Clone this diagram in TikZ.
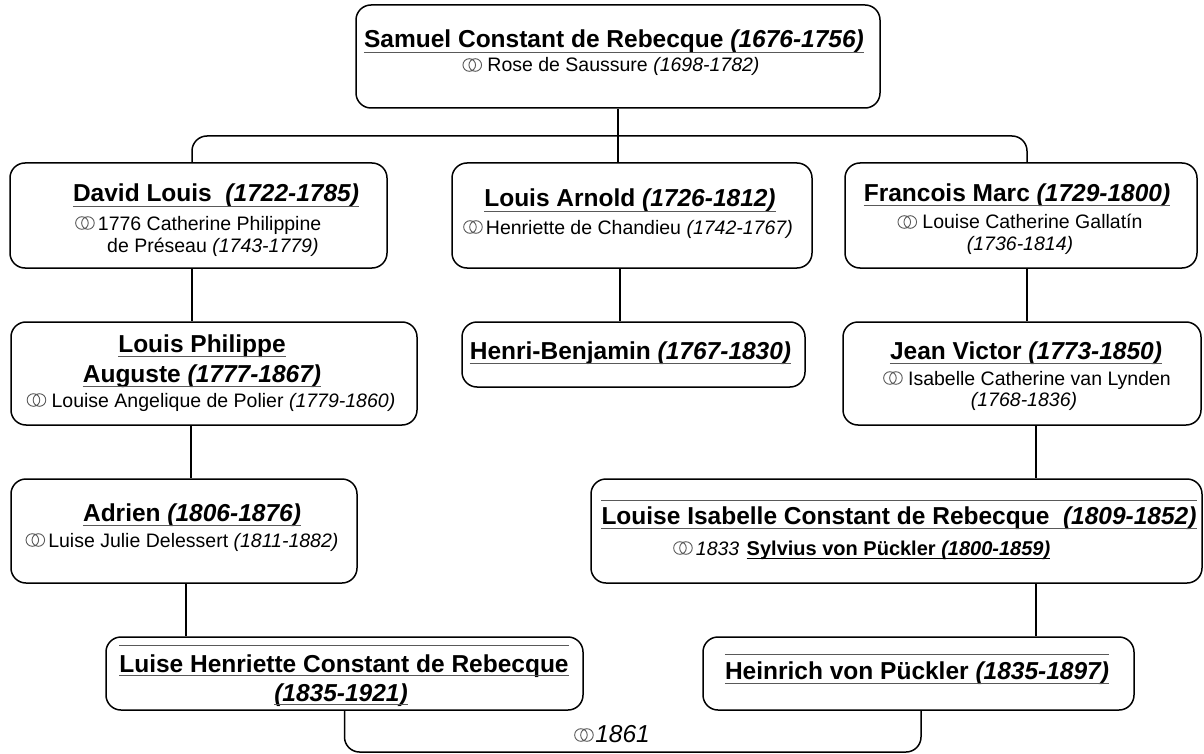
\documentclass[tikz,border=0pt]{standalone}
\usepackage{fontspec}
\setmainfont{Liberation Sans}
\newcommand{\nmfont}{\fontsize{24.5}{28}\selectfont\bfseries}
\newcommand{\sbfont}{\fontsize{19.5}{23}\selectfont}
\newcommand{\rings}{\tikz[x=1pt,y=1pt,baseline=0pt]{\draw[line width=0.9pt, black!65] (6.5,7) circle (6.3) (12.5,7) circle (6.3);}}
\newcommand{\yr}[1]{\textit{#1}}
\begin{document}
\begin{tikzpicture}[x=1pt,y=-1pt,
  box/.style={draw, line width=1.5pt, rounded corners=15pt, inner sep=0pt},
  nm/.style={font=\nmfont, inner sep=0pt, anchor=base, text depth=4pt},
  sb/.style={font=\sbfont, inner sep=0pt, anchor=base},
  uline/.style={line width=1pt, black!65},
  conn/.style={line width=1.5pt}]
\useasboundingbox (0,0) rectangle (1204,754);
% boxes
\node[box, minimum width=524pt, minimum height=103pt] (b1) at (618,56.5) {};
\node[box, minimum width=377pt, minimum height=105pt] (b2) at (198.5,215.5) {};
\node[box, minimum width=360pt, minimum height=105pt] (b3) at (632,215.5) {};
\node[box, minimum width=352pt, minimum height=105pt] (b4) at (1021,215.5) {};
\node[box, minimum width=406pt, minimum height=103pt] (b5) at (214,373.5) {};
\node[box, minimum width=343pt, minimum height=65pt] (b6) at (633.5,354.5) {};
\node[box, minimum width=358pt, minimum height=103pt] (b7) at (1022,373.5) {};
\node[box, minimum width=346pt, minimum height=104pt] (b8) at (184,531) {};
\node[box, minimum width=611pt, minimum height=104pt] (b9) at (896.5,531) {};
\node[box, minimum width=477pt, minimum height=73pt] (b10) at (344.5,673.5) {};
\node[box, minimum width=431pt, minimum height=73pt] (b11) at (918.5,673.5) {};
% texts
\node[nm] (n1) at (614,48) {Samuel Constant de Rebecque \yr{(1676-1756)}};
\draw[uline] (n1.south west) -- (n1.south east);
\node[sb] (s1) at (611,72) {\rings\ Rose de Saussure \yr{(1698-1782)}};

\node[nm] (n2) at (216,202) {David Louis \ \yr{(1722-1785)}};
\draw[uline] (n2.south west) -- (n2.south east);
\node[sb, anchor=base west] (s2a) at (75,230) {\rings\,1776 Catherine Philippine};
\node[sb, anchor=base west] (s2b) at (107,252) {de Préseau \yr{(1743-1779)}};

\node[nm] (n3) at (630,207) {Louis Arnold \yr{(1726-1812)}};
\draw[uline] (n3.south west) -- (n3.south east);
\node[sb] (s3) at (628,234) {\rings\,Henriette de Chandieu \yr{(1742-1767)}};

\node[nm] (n4) at (1017,201) {Francois Marc \yr{(1729-1800)}};
\draw[uline] (n4.south west) -- (n4.south east);
\node[sb] (s4a) at (1020,229) {\rings\ Louise Catherine Gallatín};
\node[sb] (s4b) at (1020,250) {\yr{(1736-1814)}};

\node[nm] (n5a) at (202,352) {Louis Philippe};
\draw[uline] (n5a.south west) -- (n5a.south east);
\node[nm] (n5b) at (202,382) {Auguste \yr{(1777-1867)}};
\draw[uline] (n5b.south west) -- (n5b.south east);
\node[sb] (s5) at (211,407) {\rings\ Louise Angelique de Polier \yr{(1779-1860)}};

\node[nm] (n6) at (630.5,359) {Henri-Benjamin \yr{(1767-1830)}};
\draw[uline] (n6.south west) -- (n6.south east);

\node[nm] (n7) at (1026,359) {Jean Victor \yr{(1773-1850)}};
\draw[uline] (n7.south west) -- (n7.south east);
\node[sb] (s7a) at (1027,385) {\rings\ Isabelle Catherine van Lynden};
\node[sb] (s7b) at (1024,406) {\yr{(1768-1836)}};

\node[nm] (n8) at (192,521) {Adrien \yr{(1806-1876)}};
\draw[uline] (n8.south west) -- (n8.south east);
\node[sb] (s8) at (182,547) {\rings\,Luise Julie Delessert \yr{(1811-1882)}};

\node[nm, text height=23pt] (n9) at (899,524) {Louise Isabelle Constant de Rebecque \ \yr{(1809-1852)}};
\draw[uline] (n9.north west) -- (n9.north east);
\draw[uline] (n9.south west) -- (n9.south east);
\node[sb, anchor=base west] (s9a) at (673,555) {\rings\,\yr{1833}};
\node[sb, anchor=base west, font=\fontsize{20}{24}\selectfont\bfseries, text depth=3pt] (s9b) at ([xshift=7pt]s9a.base east) {Sylvius von Pückler \yr{(1800-1859)}};
\draw[uline, black] (s9b.south west) -- (s9b.south east);

\node[nm, text height=26pt, text depth=3pt] (n10a) at (344,672) {Luise Henriette Constant de Rebecque};
\draw[uline] (n10a.north west) -- (n10a.north east);
\draw[uline] (n10a.south west) -- (n10a.south east);
\node[nm, text depth=3pt] (n10b) at (341,701) {\yr{(1835-1921)}};
\draw[uline] (n10b.south west) -- (n10b.south east);

\node[nm, text height=24pt] (n11) at (917,679) {Heinrich von Pückler \yr{(1835-1897)}};
\draw[uline] (n11.north west) -- (n11.north east);
\draw[uline] (n11.south west) -- (n11.south east);

\node[anchor=base west, inner sep=0pt] (m) at (574,742) {\rings\,{\fontsize{24.5}{28}\selectfont\itshape 1861}};

% connectors
\coordinate (j1) at (618,136);
\coordinate (j2) at (618,752);
\draw[conn] (b1.south) -- (b1.south |- b3.north);
\draw[conn, rounded corners=15pt] ([xshift=-6.5pt]b2.north) |- (j1) -| ([xshift=6pt]b4.north);
\draw[conn] ([xshift=-6.5pt]b2.south) -- ([xshift=-6.5pt]b2.south |- b5.north);
\draw[conn] ([xshift=-12pt]b3.south) -- ([xshift=-12pt]b3.south |- b6.north);
\draw[conn] ([xshift=6pt]b4.south) -- ([xshift=6pt]b4.south |- b7.north);
\draw[conn] ([xshift=-23pt]b5.south) -- ([xshift=-23pt]b5.south |- b8.north);
\draw[conn] ([xshift=14pt]b7.south) -- ([xshift=14pt]b7.south |- b9.north);
\draw[conn] ([xshift=2pt]b8.south) -- ([xshift=2pt]b8.south |- b10.north);
\draw[conn] ([xshift=139.5pt]b9.south) -- ([xshift=139.5pt]b9.south |- b11.north);
\draw[conn, rounded corners=15pt] (b10.south) |- (j2) -| ([xshift=2.5pt]b11.south);
\end{tikzpicture}
\end{document}
